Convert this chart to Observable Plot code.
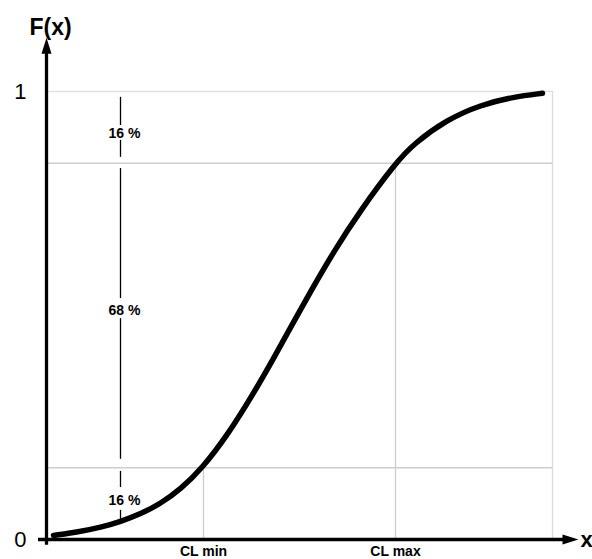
<!DOCTYPE html>
<html>
<head>
<meta charset="utf-8">
<script src="https://cdn.jsdelivr.net/npm/d3@7"></script>
<script src="https://cdn.jsdelivr.net/npm/@observablehq/plot@0.6"></script>
<style>
  html, body { margin: 0; padding: 0; background: #fff; }
  #chart svg { display: block; }
</style>
</head>
<body>
<div id="chart"></div>
<script>
// Curve (x in arbitrary units, F(x) probability)
const curveX = [0.14, 0.68, 1.08, 1.48, 1.88, 2.28, 2.68, 3.12, 3.62, 4.14, 4.54, 4.94, 5.28, 5.74, 6.28, 6.98, 7.34, 8.02, 8.68, 9.34, 9.92];
const curveF = [0.009, 0.018, 0.027, 0.040, 0.057, 0.080, 0.112, 0.160, 0.233, 0.326, 0.404, 0.485, 0.553, 0.642, 0.735, 0.840, 0.883, 0.938, 0.970, 0.988, 0.996];

// Confidence levels and their x positions
const levels = [0.16, 0.84];
const clX = [3.14, 6.98];
const clLabels = ["CL min", "CL max"];
const boxRight = 10.12;

// Percent bracket on the left
const bracketX = 1.48;
const bracketY1 = [0.987, 0.891, 0.828, 0.493, 0.152, 0.065];
const bracketY2 = [0.924, 0.853, 0.538, 0.179, 0.116, 0.045];
const pctLabels = ["16 %", "68 %", "16 %"];
const pctY = [0.906, 0.511, 0.087];
const pctX = 1.56;

// Axes
const yTicks = [0, 1];
const xMax = 10.64;
const yArrowTip = 1.12;
const axisLabels = ["F(x)", "x"];

const curve = curveX.map((x, i) => ({x, y: curveF[i]}));
const cl = clX.map((x, i) => ({x, y: levels[i], label: clLabels[i]}));
const segs = bracketY1.map((y1, i) => ({y1, y2: bracketY2[i]}));
const pct = pctLabels.map((t, i) => ({t, y: pctY[i]}));

const arrowHead = {
  draw(context) {
    context.moveTo(0, 0);
    context.lineTo(5, 16);
    context.lineTo(-5, 16);
    context.closePath();
  }
};

const chart = Plot.plot({
  width: 592,
  height: 559,
  marginLeft: 46,
  marginRight: 14,
  marginTop: 91,
  marginBottom: 20,
  style: {fontFamily: "'Liberation Sans', Arial, sans-serif", color: "#000", background: "#fff"},
  x: {domain: [0, xMax], axis: null},
  y: {domain: [0, 1], axis: null},
  marks: [
    Plot.ruleY([1], {x1: 0, x2: boxRight, stroke: "#e2e2e2", strokeWidth: 1.5}),
    Plot.ruleX([boxRight], {y1: 0, y2: 1, stroke: "#dcdcdc", strokeWidth: 1.3}),
    Plot.ruleY(levels, {x1: 0, x2: boxRight, stroke: "#cdcdcd", strokeWidth: 1.5}),
    Plot.ruleX(cl, {x: "x", y1: 0, y2: "y", stroke: "#cdcdcd", strokeWidth: 1.3}),
    Plot.ruleX(segs, {x: bracketX, y1: "y1", y2: "y2", stroke: "#000", strokeWidth: 1.3}),
    Plot.text(pct, {x: pctX, y: "y", text: "t", fontSize: 14, fontWeight: "bold", fill: "#000"}),
    Plot.line(curve, {x: "x", y: "y", stroke: "#000", strokeWidth: 5.5, curve: "basis", strokeLinecap: "round"}),
    Plot.ruleY([0], {x1: -0.16, x2: xMax - 0.28, stroke: "#000", strokeWidth: 3.3}),
    Plot.ruleX([0], {y1: -0.013, y2: yArrowTip - 0.03, stroke: "#000", strokeWidth: 3.3}),
    Plot.dot([{x: 0, y: yArrowTip}], {x: "x", y: "y", symbol: arrowHead, fill: "#000", stroke: "none"}),
    Plot.dot([{x: xMax, y: 0, a: 90}], {x: "x", y: "y", rotate: "a", symbol: arrowHead, fill: "#000", stroke: "none"}),
    Plot.text(yTicks, {x: 0, y: d => d, text: d => String(d), dx: -20, textAnchor: "end", fontSize: 22, fill: "#000"}),
    Plot.text([axisLabels[0]], {x: 0.08, y: 1.143, text: d => d, fontSize: 23, fontWeight: "bold", fill: "#000"}),
    Plot.text([axisLabels[1]], {x: xMax, y: 0, text: d => d, dx: 2, textAnchor: "start", fontSize: 22, fontWeight: "bold", fill: "#000"}),
    Plot.text(cl, {x: "x", y: 0, text: "label", dy: 16, lineAnchor: "bottom", fontSize: 14, fontWeight: "bold", fill: "#000"})
  ]
});
document.getElementById("chart").append(chart);
</script>
</body>
</html>
